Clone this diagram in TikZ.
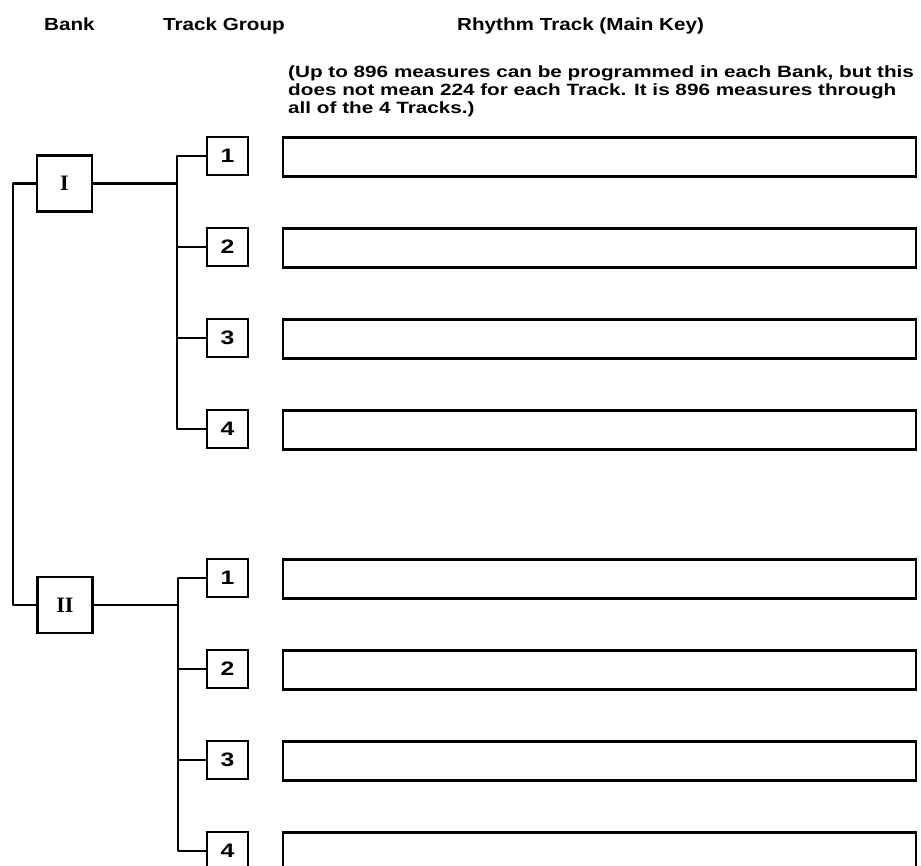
\documentclass[tikz,border=0pt]{standalone}
\usepackage{fontspec}
\setmainfont{Liberation Sans}
\newfontfamily\headfont[FakeStretch=1.18]{Liberation Sans}
\newfontfamily\notefont[FakeStretch=1.27]{Liberation Sans}
\newfontfamily\romfont{Liberation Serif}
\begin{document}
\begin{tikzpicture}[x=1pt,y=-1pt,
  line/.style={line width=2.2pt, line join=round},
  bankbox/.style={draw, line width=2.2pt, minimum width=55pt, minimum height=56pt, inner sep=0pt,
     font=\romfont\fontsize{22}{22}\selectfont\bfseries},
  trackbox/.style={draw, line width=2.2pt, minimum width=41pt, minimum height=38pt, inner sep=0pt,
     font=\notefont\fontsize{19.5}{19.5}\selectfont\bfseries},
  rhythmbox/.style={draw, line width=2.2pt, minimum width=633pt, minimum height=39pt, inner sep=0pt},
  header/.style={font=\headfont\fontsize{17.5}{17.5}\selectfont\bfseries, inner sep=0pt, anchor=base west},
  note/.style={font=\notefont\fontsize{16.3}{18}\selectfont\bfseries, inner sep=0pt, anchor=base west}
]
\useasboundingbox (0,0) rectangle (921,866);

% headers
\node[header] (hbank) at (44,31) {Bank};
\node[header] (htrack) at (163,31) {Track Group};
\node[header] (hrhythm) at (457,31) {Rhythm Track (Main Key)};
\node[note] (note1) at (288,78) {(Up to 896 measures can be programmed in each Bank, but this};
\node[note] (note2) at (288,96) {does not mean 224 for each Track. It is 896 measures through};
\node[note] (note3) at (288,114) {all of the 4 Tracks.)};

% banks
\node[bankbox] (b1) at (64.5,183.5) {I};
\node[bankbox] (b2) at (65,605) {II};
\draw[line] (b1.west) -- ++(-23,0) |- (b2.west);

% bank I tracks
\foreach \i/\y in {1/156,2/247,3/338,4/429}{
  \node[trackbox] (t1\i) at (227.5,\y) {\i};
  \node[rhythmbox] (r1\i) at (599.5,\y+1) {};
}
\coordinate (j1) at (177,183.5);
\draw[line] (b1.east) -- (j1);
\draw[line] (t11.west) -| (j1) -- (j1 |- t14.west) -- (t14.west);
\draw[line] (t12.west) -- (t12.west -| j1);
\draw[line] (t13.west) -- (t13.west -| j1);

% bank II tracks
\foreach \i/\y in {1/578,2/669,3/760,4/851}{
  \node[trackbox] (t2\i) at (227.5,\y) {\i};
  \node[rhythmbox] (r2\i) at (599.5,\y+1) {};
}
\coordinate (j2) at (178,605);
\draw[line] (b2.east) -- (j2);
\draw[line] (t21.west) -| (j2) -- (j2 |- t24.west) -- (t24.west);
\draw[line] (t22.west) -- (t22.west -| j2);
\draw[line] (t23.west) -- (t23.west -| j2);
\end{tikzpicture}
\end{document}
